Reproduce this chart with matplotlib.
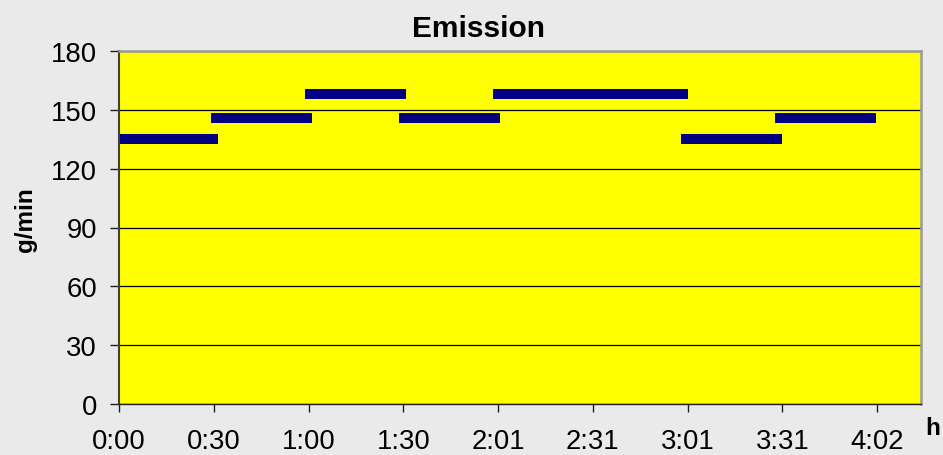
import matplotlib
matplotlib.use("Agg")
import matplotlib.pyplot as plt

# emission steps: start / end minute and g/min value
seg_start = [0, 31, 61, 91, 121, 181, 211]
seg_end = [30, 60, 90, 120, 180, 210, 240]
seg_value = [135, 146, 158, 146, 158, 135, 146]

x_ticks = [0, 30.25, 60.5, 90.75, 121, 151.25, 181.5, 211.75, 242]
x_labels = ["0:00", "0:30", "1:00", "1:30", "2:01", "2:31", "3:01", "3:31", "4:02"]
y_ticks = [0, 30, 60, 90, 120, 150, 180]

plt.rcParams['font.family'] = ['Liberation Sans', 'DejaVu Sans']

bg = "#eaeaea"
fig = plt.figure(figsize=(9.43, 4.56), dpi=100, facecolor=bg)
ax = fig.add_axes([119/943, 1 - 405/456, (921-119)/943, (405-52)/456])
ax.set_facecolor("#ffff00")

for s, e, v in zip(seg_start, seg_end, seg_value):
    ax.plot([s, e], [v, v], color="#000080", lw=7.2, solid_capstyle="projecting")

ax.set_xlim(0, 256)
ax.set_ylim(0, 180)
ax.set_xticks(x_ticks)
ax.set_xticklabels(x_labels)
ax.set_yticks(y_ticks)

ax.yaxis.grid(True, color="black", lw=0.9)
ax.set_axisbelow(True)

ax.tick_params(axis="x", direction="out", length=5.8, width=1, color="#202020",
               labelsize=19.8, pad=11.5)
ax.tick_params(axis="y", direction="out", length=6.5, width=1, color="#202020",
               labelsize=19.8, pad=9.4)

ax.spines["left"].set_color("#404040")
ax.spines["left"].set_linewidth(1.5)
ax.spines["bottom"].set_color("#202020")
ax.spines["bottom"].set_linewidth(1.0)
ax.spines["top"].set_color("#9a9a9a")
ax.spines["top"].set_linewidth(1.8)
ax.spines["right"].set_color("#9a9a9a")
ax.spines["right"].set_linewidth(1.8)

fig.text(478/943, 1 - 36.7/456, "Emission", ha="center", va="baseline",
         fontsize=21.5, fontweight="bold")
fig.text(25/943, 1 - 220/456, "g/min", ha="center", va="center", rotation=90,
         fontsize=17.5, fontweight="bold")
fig.text(932.5/943, 1 - 435/456, "h", ha="center", va="baseline",
         fontsize=17.5, fontweight="bold")

fig.savefig("out.png", dpi=100, facecolor=bg)
